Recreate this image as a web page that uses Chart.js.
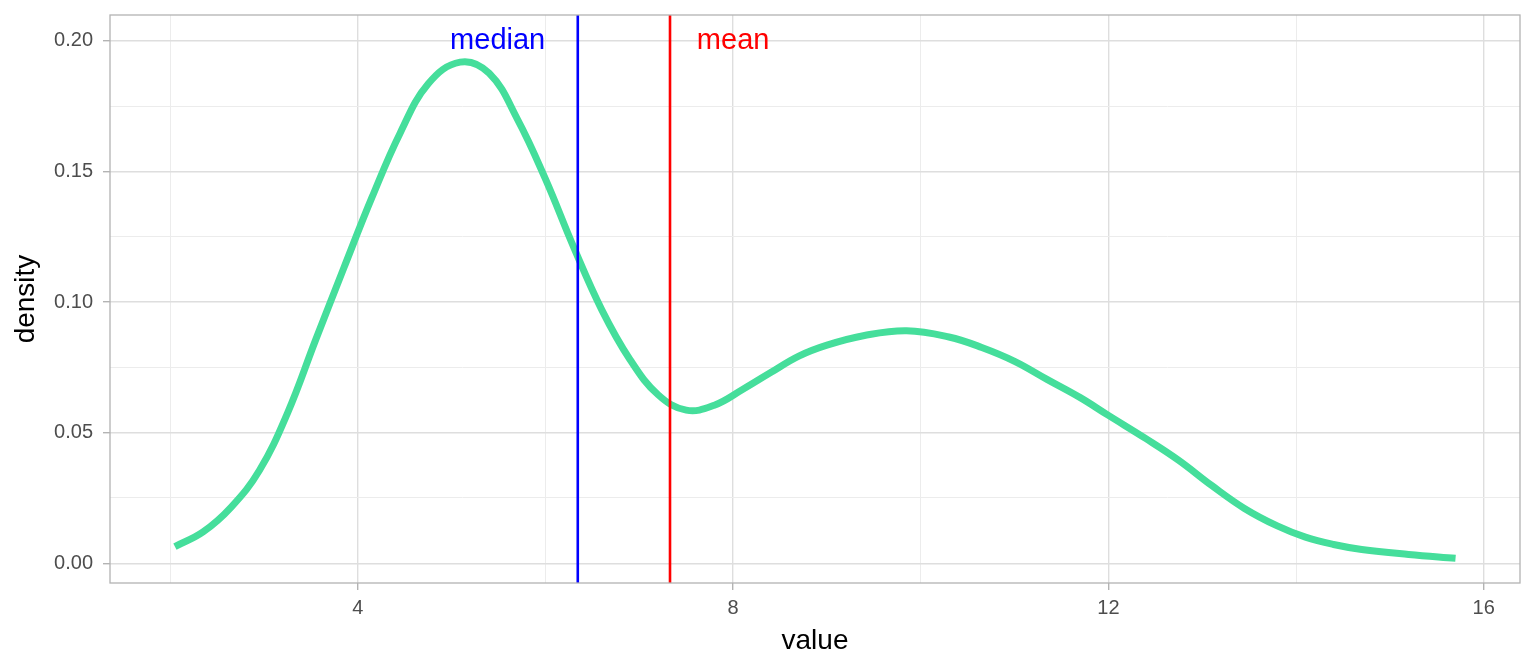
<!DOCTYPE html>
<html>
<head>
<meta charset="utf-8">
<script src="https://cdn.jsdelivr.net/npm/chart.js@4/dist/chart.umd.min.js"></script>
<style>
  body { margin: 0; background: #fff; }
  #wrap { width: 1536px; height: 672px; }
</style>
</head>
<body>
<div id="wrap"><canvas id="density-plot" width="1536" height="672"></canvas></div>
<script>
// density curve
const densityX = [2.05, 2.35, 2.65, 2.95, 3.25, 3.55, 3.85, 4.15, 4.45, 4.75, 5.09, 5.4, 5.7,
  6.0, 6.3, 6.6, 6.9, 7.2, 7.5, 7.8, 8.1, 8.4, 8.7, 9.0, 9.4, 9.85, 10.3, 10.65,
  11.0, 11.35, 11.7, 12.0, 12.4, 12.75, 13.1, 13.45, 13.8, 14.1, 14.4, 14.7, 15.2, 15.7];
const densityY = [0.0064, 0.0120, 0.0215, 0.0355, 0.0575, 0.0855, 0.113, 0.140, 0.1646, 0.1835, 0.1918, 0.1875, 0.170,
  0.147, 0.121, 0.097, 0.078, 0.0645, 0.0586, 0.0605, 0.0665, 0.073, 0.0793, 0.0835, 0.0872, 0.089, 0.0866, 0.0826,
  0.0773, 0.0703, 0.0634, 0.0566, 0.0477, 0.0394, 0.0298, 0.0210, 0.0143, 0.0100, 0.0072, 0.0053, 0.0034, 0.0019];

const medianValue = 6.344;
const meanValue = 7.327;

const labelNames = ['median', 'mean'];
const labelX = [5.49, 8.0];
const labelY = [0.2, 0.2];
const labelColors = ['#0000ff', '#ff0000'];

const xLimits = [1.358, 16.387];
const yLimits = [-0.00754, 0.20983];
const xTickLabels = ['4', '8', '12', '16'];
const yTickLabels = ['0.00', '0.05', '0.10', '0.15', '0.20'];

const curve = densityX.map((x, i) => ({ x: x, y: densityY[i] }));
const vline = v => [{ x: v, y: yLimits[0] }, { x: v, y: yLimits[1] }];

const isMajorX = v => Math.round(v / 2) % 2 === 0;
const isMajorY = v => Math.round(v / 0.025) % 2 === 0;
const fontFamily = '"Liberation Sans", Arial, sans-serif';

// panel border + text annotations
const panelExtras = {
  id: 'panelExtras',
  afterDatasetsDraw(chart) {
    const { ctx, chartArea: a, scales: { x, y } } = chart;
    ctx.save();
    ctx.font = '29px ' + fontFamily;
    ctx.textAlign = 'center';
    ctx.textBaseline = 'middle';
    labelNames.forEach((t, i) => {
      ctx.fillStyle = labelColors[i];
      ctx.fillText(t, x.getPixelForValue(labelX[i]), y.getPixelForValue(labelY[i]));
    });
    ctx.strokeStyle = '#b3b3b3';
    ctx.lineWidth = 1.3;
    ctx.strokeRect(a.left, a.top, a.right - a.left, a.bottom - a.top);
    ctx.restore();
  }
};

new Chart(document.getElementById('density-plot'), {
  type: 'line',
  data: {
    datasets: [{
      data: curve,
      borderColor: '#45de9b',
      borderWidth: 7,
      pointRadius: 0,
      tension: 0.4,
      order: 2
    }, {
      data: vline(medianValue),
      borderColor: '#0000ff',
      borderWidth: 2.6,
      pointRadius: 0,
      order: 1
    }, {
      data: vline(meanValue),
      borderColor: '#ff0000',
      borderWidth: 2.6,
      pointRadius: 0,
      order: 1
    }]
  },
  options: {
    responsive: false,
    animation: false,
    layout: { padding: { top: 15, right: 16, left: 0, bottom: 0 } },
    plugins: { legend: { display: false }, tooltip: { enabled: false } },
    scales: {
      x: {
        type: 'linear',
        min: xLimits[0],
        max: xLimits[1],
        afterFit: s => { s.height = 89; s.paddingLeft = 0; s.paddingRight = 0; },
        border: { display: false },
        grid: {
          color: c => isMajorX(c.tick.value) ? '#dedede' : '#ececec',
          lineWidth: c => isMajorX(c.tick.value) ? 1.4 : 1,
          tickLength: 7,
          tickColor: c => isMajorX(c.tick.value) ? '#b3b3b3' : 'rgba(0,0,0,0)'
        },
        ticks: {
          stepSize: 2,
          includeBounds: false,
          maxRotation: 0,
          autoSkip: false,
          padding: 6,
          color: '#4d4d4d',
          font: { family: fontFamily, size: 20 },
          callback: v => isMajorX(v) ? xTickLabels[Math.round(v / 4) - 1] : ''
        },
        title: {
          display: true,
          text: 'value',
          color: '#000',
          font: { family: fontFamily, size: 28 },
          padding: { top: 0, bottom: 14 }
        }
      },
      y: {
        type: 'linear',
        min: yLimits[0],
        max: yLimits[1],
        afterFit: s => { s.width = 110; s.paddingTop = 0; s.paddingBottom = 0; },
        border: { display: false },
        grid: {
          color: c => isMajorY(c.tick.value) ? '#dedede' : '#ececec',
          lineWidth: c => isMajorY(c.tick.value) ? 1.4 : 1,
          tickLength: 7,
          tickColor: c => isMajorY(c.tick.value) ? '#b3b3b3' : 'rgba(0,0,0,0)'
        },
        ticks: {
          stepSize: 0.025,
          includeBounds: false,
          autoSkip: false,
          padding: 10,
          color: '#4d4d4d',
          font: { family: fontFamily, size: 20 },
          callback: v => isMajorY(v) ? yTickLabels[Math.round(v / 0.05)] : ''
        },
        title: {
          display: true,
          text: 'density',
          color: '#000',
          font: { family: fontFamily, size: 28 },
          padding: { top: 9, bottom: 0 }
        }
      }
    }
  },
  plugins: [panelExtras]
});
</script>
</body>
</html>
